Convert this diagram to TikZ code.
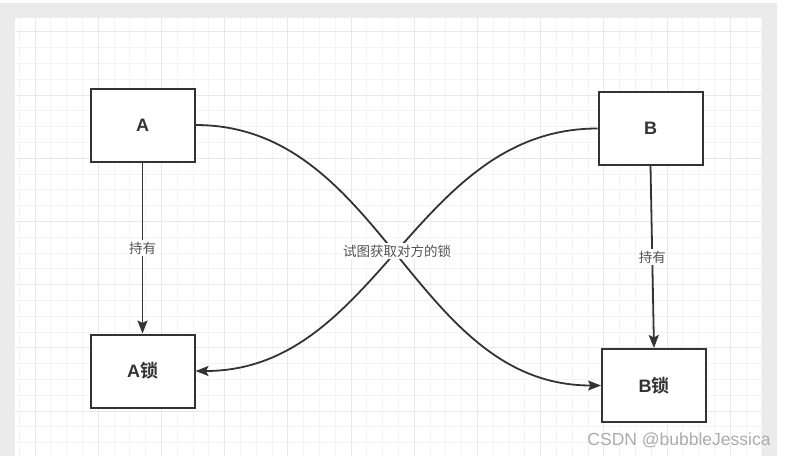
\documentclass[tikz,border=0pt]{standalone}
\usepackage{fontspec}
\setmainfont{Liberation Sans}
\newfontfamily\cjk{Noto Sans CJK SC}[BoldFont={Noto Sans CJK SC Bold}]
\usetikzlibrary{positioning,arrows.meta}
\definecolor{ink}{HTML}{333333}
\definecolor{frame}{HTML}{EBEBEB}
\definecolor{minorline}{HTML}{F3F3F3}
\definecolor{majorline}{HTML}{E8E8E8}
\begin{document}
\begin{tikzpicture}[x=1pt, y=-1pt, node distance=171pt, thick,
    box/.style = {draw=ink, line width=2pt, fill=white, inner sep=0pt,
      minimum width=104pt, minimum height=73pt, text=ink,
      font=\fontsize{18}{20}\selectfont\bfseries},
    tag/.style = {fill=white, inner sep=1.5pt, text=ink!85,
      font=\cjk\fontsize{13.5}{15}\selectfont},
    link/.style = {draw=ink, line width=1.8pt,
      -{Stealth[length=13pt, width=10pt, inset=2.5pt]}}]
    % canvas and grid
    \useasboundingbox (0,0) rectangle (787,456);
    \fill[frame] (0,3) rectangle (777,456);
    \fill[white] (15,18) rectangle (762,456);
    \foreach \gx in {0,...,47}
        \draw[minorline, line width=0.8pt] (19.2+15.8*\gx,18) -- (19.2+15.8*\gx,456);
    \foreach \gy in {0,...,26}
        \draw[minorline, line width=0.8pt] (15,31.7+15.8*\gy) -- (762,31.7+15.8*\gy);
    \foreach \gx in {0,...,11}
        \draw[majorline, line width=0.8pt] (35+63.2*\gx,18) -- (35+63.2*\gx,456);
    \foreach \gy in {0,...,6}
        \draw[majorline, line width=0.8pt] (15,31.7+63.2*\gy) -- (762,31.7+63.2*\gy);

    % threads and locks
    \node[box] (A) at (142.5,125) {A};
    \node[box] (B) at (650.5,128.5) {B};
    \node[box] (Alock) [below=171pt of A] {A{\cjk 锁}};
    \node[box] (Block) [below=182pt of B, xshift=3.5pt] {B{\cjk 锁}};

    \draw[link] (A) -- node[tag] {持有} (Alock);
    \draw[link] (B.south) -- node[tag] {持有} (Block.north);

    \draw[link] (A.east) to[out=0, in=180] (Block.west);
    \draw[link] (B.west) to[out=180, in=0] (Alock.east);
    \node[tag] (try) at (397,251) {试图获取对方的锁};

    \node[text=gray!65, font=\fontsize{17.5}{19}\selectfont] (mark) at (679,440) {CSDN @bubbleJessica};
\end{tikzpicture}
\end{document}
